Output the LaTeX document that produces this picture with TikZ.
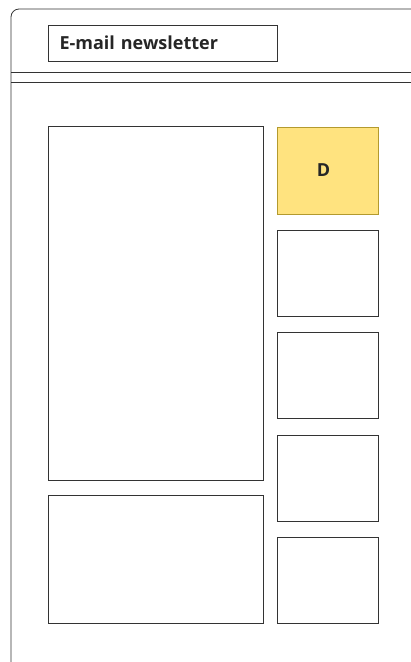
\documentclass[tikz,border=0pt]{standalone}
\usepackage{fontspec}
\setmainfont{Open Sans}
\usepackage{xcolor}
\definecolor{framegray}{HTML}{333333}
\definecolor{noteyellow}{HTML}{FFE37F}
\definecolor{noteedge}{HTML}{B39A2E}

\begin{document}
\begin{tikzpicture}[x=1pt, y=-1pt, line width=0.8pt,
    panel/.style={draw=framegray, rectangle, inner sep=0pt},
    sidebox/.style={panel, minimum width=101pt, minimum height=86pt},
    boldtext/.style={font=\bfseries\fontsize{18}{21}\selectfont, text=black!85}]
    \useasboundingbox (0,0) rectangle (411,662);
    % browser window
    \draw[framegray, rounded corners=8pt] (411,9) -- (11,9) -- (11,662);
    \draw[framegray] (11,72) -- (411,72);
    \draw[framegray] (11,82) -- (411,82);
    \node[panel, boldtext, minimum width=229pt, minimum height=36pt, text width=206pt,
          inner xsep=11.5pt, align=left] (title) at (162.5,43) {E-mail newsletter};
    % content
    \node[panel, minimum width=215pt, minimum height=354pt] (main) at (155.5,303) {};
    \node[panel, minimum width=215pt, minimum height=128pt] (foot) at (155.5,559) {};
    \node[sidebox, boldtext, draw=noteedge, fill=noteyellow, minimum height=87pt] (D) at (327.5,170.5) {D\hspace*{8pt}};
    \node[sidebox] (S1) at (327.5,273) {};
    \node[sidebox] (S2) at (327.5,375) {};
    \node[sidebox] (S3) at (327.5,478) {};
    \node[sidebox] (S4) at (327.5,580) {};
\end{tikzpicture}
\end{document}
